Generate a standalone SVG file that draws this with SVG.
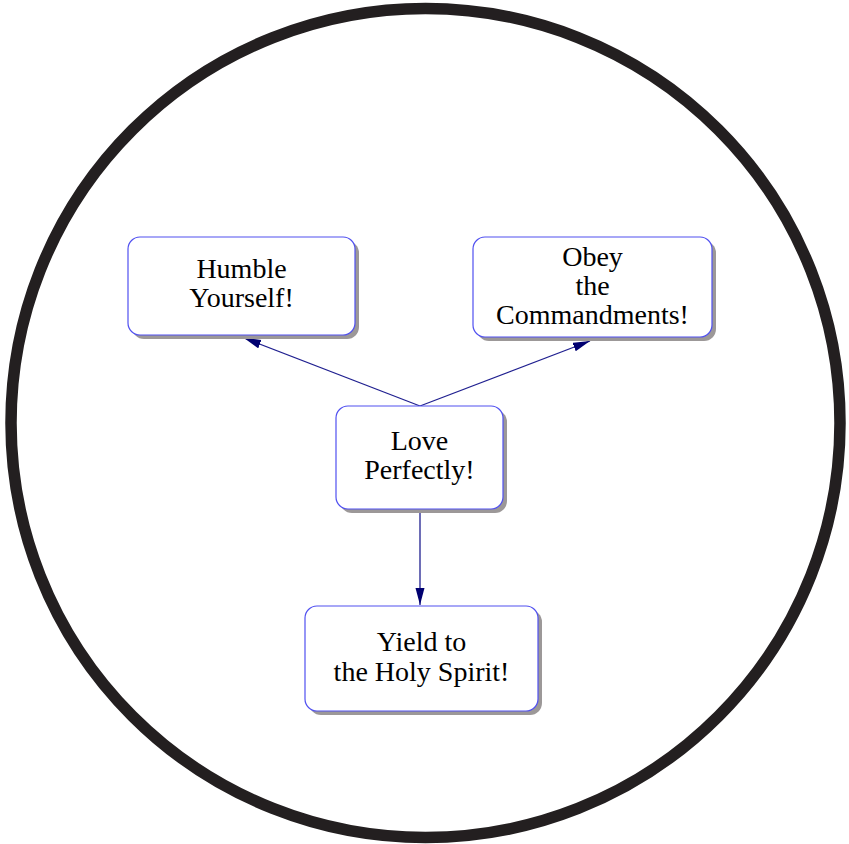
<svg xmlns="http://www.w3.org/2000/svg" width="849" height="844" viewBox="0 0 849 844">
<style>
.shadow{fill:#9c9898;}
.box{fill:#ffffff;stroke:#5050f0;stroke-width:1.2;}
.lbl{font-family:"Liberation Serif","DejaVu Serif",serif;font-size:28px;fill:#000;text-anchor:middle;}
.edge{stroke:#202090;stroke-width:1.3;fill:none;}
</style>
<defs>
<marker id="ah" markerUnits="userSpaceOnUse" markerWidth="18" markerHeight="10" refX="17" refY="4.5" orient="auto">
<path d="M0,0 L17,4.5 L0,9 z" fill="#000070"/>
</marker>
</defs>
<rect width="849" height="844" fill="#ffffff"/>
<circle cx="425.5" cy="423" r="414.5" fill="none" stroke="#231f20" stroke-width="11.5"/>
<g id="connectors">
<line class="edge" x1="420" y1="406" x2="244" y2="338" marker-end="url(#ah)"/>
<line class="edge" x1="420" y1="406" x2="590" y2="341" marker-end="url(#ah)"/>
<line class="edge" x1="420" y1="510" x2="420" y2="605" marker-end="url(#ah)"/>
</g>
<g id="humble">
<rect class="shadow" x="132" y="241" width="227" height="98" rx="12"/>
<rect class="box" x="128" y="237" width="227" height="98" rx="12"/>
<text class="lbl" x="241.5" y="278">Humble</text>
<text class="lbl" x="241.5" y="307">Yourself!</text>
</g>
<g id="obey">
<rect class="shadow" x="477" y="241" width="239" height="100" rx="12"/>
<rect class="box" x="473" y="237" width="239" height="100" rx="12"/>
<text class="lbl" x="592.5" y="266">Obey</text>
<text class="lbl" x="592.5" y="295">the</text>
<text class="lbl" x="592.5" y="324">Commandments!</text>
</g>
<g id="love">
<rect class="shadow" x="340" y="410" width="167" height="103" rx="12"/>
<rect class="box" x="336" y="406" width="167" height="103" rx="12"/>
<text class="lbl" x="419.5" y="450">Love</text>
<text class="lbl" x="419.5" y="479">Perfectly!</text>
</g>
<g id="yield">
<rect class="shadow" x="309" y="610" width="233" height="105" rx="12"/>
<rect class="box" x="305" y="606" width="233" height="105" rx="12"/>
<text class="lbl" x="421.5" y="651">Yield to</text>
<text class="lbl" x="421.5" y="681">the Holy Spirit!</text>
</g>
</svg>
